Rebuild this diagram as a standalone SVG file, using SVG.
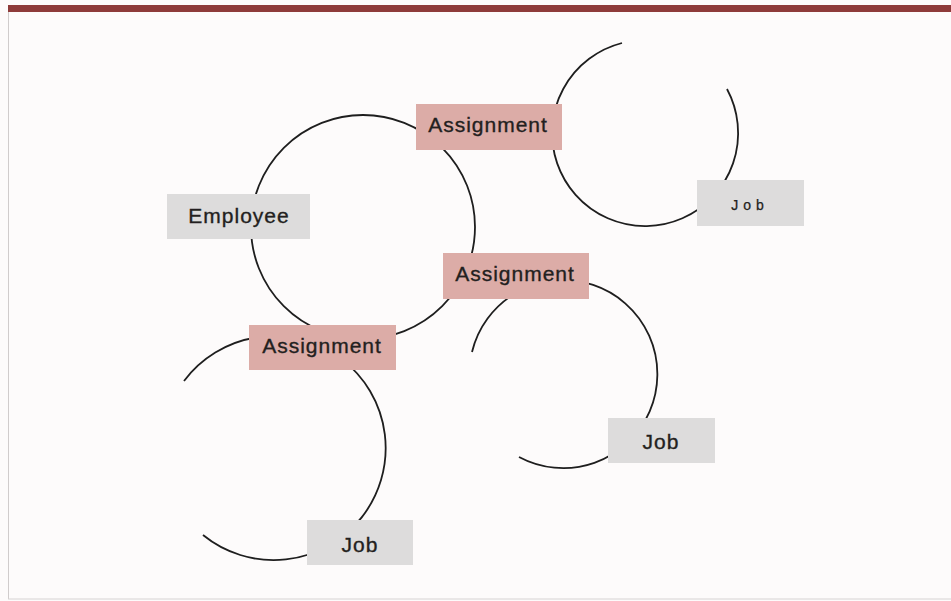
<svg xmlns="http://www.w3.org/2000/svg" width="951" height="601" viewBox="0 0 951 601">
<style>
.arc{fill:none;stroke:#1e1e1e;stroke-width:1.8}
.asg{fill:#dcaca7}
.job{fill:#dddcdc}
.t{font-family:"Liberation Sans",Arial,sans-serif;font-size:21px;letter-spacing:1px;fill:#231f20;stroke:#231f20;stroke-width:0.35;text-anchor:middle}
.ts{font-family:"Liberation Sans",Arial,sans-serif;font-size:14px;letter-spacing:5px;fill:#231f20;stroke:#231f20;stroke-width:0.25;text-anchor:middle}
</style>
<rect x="0" y="0" width="951" height="601" fill="#fdfbfb"/>
<rect x="8" y="5" width="943" height="7" fill="#8e3b3a"/>
<line x1="8.5" y1="12" x2="8.5" y2="599" stroke="#d0cccc" stroke-width="1"/>
<line x1="8" y1="599" x2="951" y2="599" stroke="#d6d3d3" stroke-width="1"/>
<g id="connectors">
<circle class="arc" cx="363" cy="227" r="112"/>
<path class="arc" d="M622,43 A93,93 0 1 0 727,89"/>
<path class="arc" d="M472,352 A94,94 0 1 1 519,457"/>
<path class="arc" d="M184,381 A112,112 0 1 1 203,535"/>
</g>
<g id="employee">
<rect class="job" x="167" y="194" width="143" height="45"/>
<text class="t" x="239" y="223">Employee</text>
</g>
<g id="assignment1">
<rect class="asg" x="416" y="104" width="146" height="46"/>
<text class="t" x="488" y="132">Assignment</text>
</g>
<g id="assignment2">
<rect class="asg" x="443" y="253" width="146" height="46"/>
<text class="t" x="515" y="281">Assignment</text>
</g>
<g id="assignment3">
<rect class="asg" x="249" y="325" width="147" height="45"/>
<text class="t" x="322" y="353">Assignment</text>
</g>
<g id="job1">
<rect class="job" x="697" y="180" width="107" height="46"/>
<text class="ts" x="750" y="210">Job</text>
</g>
<g id="job2">
<rect class="job" x="608" y="418" width="107" height="45"/>
<text class="t" x="661" y="449">Job</text>
</g>
<g id="job3">
<rect class="job" x="307" y="520" width="106" height="45"/>
<text class="t" x="360" y="552">Job</text>
</g>
</svg>
